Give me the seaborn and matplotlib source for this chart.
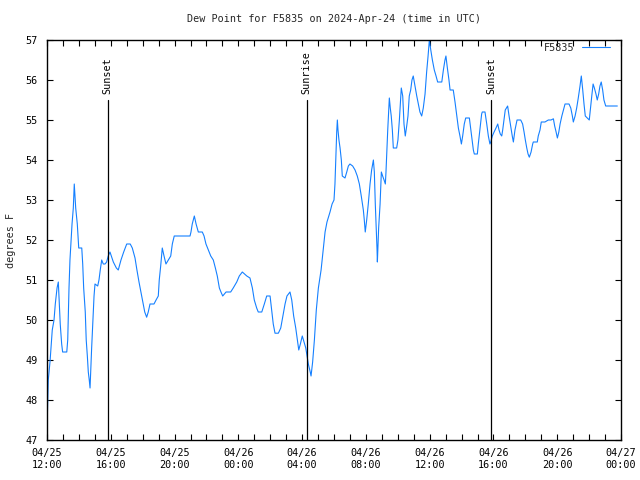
import matplotlib
matplotlib.use("Agg")
import matplotlib.pyplot as plt
import matplotlib.dates as mdates
import numpy as np
import pandas as pd
import seaborn as sns

# ---- data ----
start_time = "2024-04-25 12:00"
hours = [
    0.02, 0.08, 0.19, 0.25, 0.33, 0.44, 0.52, 0.63, 0.71, 0.75, 0.83, 0.92, 0.98, 1.24, 1.30, 1.34,
    1.38, 1.44, 1.51, 1.57, 1.65, 1.71, 1.80, 1.90, 1.99, 2.18, 2.24, 2.30, 2.40, 2.46, 2.53, 2.59,
    2.65, 2.70, 2.74, 2.80, 2.87, 2.95, 3.01, 3.18, 3.26, 3.34, 3.43, 3.53, 3.64, 3.74, 3.84, 3.95,
    4.16, 4.35, 4.47, 4.64, 4.81, 5.00, 5.22, 5.35, 5.52, 5.64, 5.77, 5.94, 6.13, 6.25, 6.35, 6.46,
    6.71, 6.84, 6.98, 7.04, 7.13, 7.23, 7.34, 7.46, 7.61, 7.76, 7.86, 7.98, 8.97, 9.03, 9.11, 9.24,
    9.35, 9.49, 9.74, 9.85, 9.97, 10.12, 10.27, 10.43, 10.56, 10.68, 10.81, 10.91, 11.02, 11.23, 11.52, 11.68,
    11.90, 12.06, 12.25, 12.53, 12.73, 12.88, 13.00, 13.15, 13.25, 13.47, 13.63, 13.78, 13.99, 14.09, 14.19, 14.30,
    14.51, 14.66, 14.78, 14.93, 15.05, 15.24, 15.35, 15.47, 15.60, 15.70, 15.79, 15.89, 16.01, 16.12, 16.23, 16.31,
    16.39, 16.51, 16.56, 16.66, 16.77, 16.89, 17.02, 17.19, 17.31, 17.44, 17.56, 17.75, 17.88, 18.00, 18.06, 18.11,
    18.17, 18.21, 18.25, 18.31, 18.38, 18.46, 18.52, 18.69, 18.80, 18.90, 19.00, 19.17, 19.32, 19.46, 19.59, 19.71,
    19.84, 19.90, 19.96, 20.05, 20.15, 20.26, 20.36, 20.43, 20.47, 20.53, 20.59, 20.64, 20.70, 20.72, 20.80, 20.89,
    20.97, 21.05, 21.14, 21.22, 21.26, 21.31, 21.37, 21.43, 21.47, 21.53, 21.59, 21.66, 21.72, 21.93, 22.01, 22.10,
    22.16, 22.22, 22.31, 22.39, 22.47, 22.56, 22.64, 22.72, 22.81, 22.89, 22.97, 23.08, 23.19, 23.29, 23.39, 23.50,
    23.60, 23.71, 23.81, 23.90, 23.98, 24.07, 24.17, 24.29, 24.40, 24.50, 24.76, 24.86, 24.96, 25.02, 25.11, 25.21,
    25.28, 25.48, 25.59, 25.70, 25.80, 25.90, 25.99, 26.07, 26.17, 26.26, 26.49, 26.57, 26.66, 26.74, 26.80, 26.99,
    27.05, 27.16, 27.26, 27.30, 27.47, 27.58, 27.68, 27.78, 27.83, 27.93, 28.04, 28.16, 28.27, 28.35, 28.43, 28.52,
    28.58, 28.66, 28.74, 28.89, 28.98, 29.10, 29.18, 29.25, 29.35, 29.48, 29.71, 29.83, 29.92, 30.00, 30.09, 30.17,
    30.25, 30.36, 30.46, 30.50, 30.75, 30.81, 30.92, 31.00, 31.23, 31.44, 31.61, 31.76, 31.84, 31.93, 32.01, 32.10,
    32.18, 32.29, 32.39, 32.49, 32.74, 32.85, 32.95, 33.01, 33.12, 33.22, 33.32, 33.43, 33.51, 33.60, 33.68, 33.76,
    33.89, 34.01, 34.10, 34.18, 34.25, 34.33, 34.43, 34.51, 34.60, 34.68, 34.76, 34.85, 34.93, 35.04, 35.77,
]
dewpoint = [
    47.57, 48.5, 48.96, 49.3, 49.75, 50.0, 50.4, 50.8, 50.95, 50.6, 49.9, 49.4, 49.2, 49.2, 49.5, 50.2,
    50.8, 51.5, 52.0, 52.4, 52.8, 53.4, 52.8, 52.4, 51.8, 51.8, 51.4, 50.8, 50.2, 49.5, 49.1, 48.7,
    48.5, 48.3, 48.7, 49.3, 49.9, 50.6, 50.9, 50.85, 51.0, 51.25, 51.5, 51.4, 51.4, 51.45, 51.6, 51.7,
    51.45, 51.3, 51.25, 51.5, 51.7, 51.9, 51.9, 51.8, 51.55, 51.25, 50.95, 50.6, 50.2, 50.07, 50.2, 50.4,
    50.4, 50.5, 50.6, 51.0, 51.35, 51.8, 51.6, 51.4, 51.5, 51.6, 51.9, 52.1, 52.1, 52.2, 52.4, 52.6,
    52.4, 52.2, 52.2, 52.1, 51.9, 51.75, 51.6, 51.5, 51.3, 51.1, 50.8, 50.7, 50.6, 50.7, 50.7, 50.8,
    50.95, 51.1, 51.2, 51.1, 51.05, 50.8, 50.5, 50.3, 50.2, 50.2, 50.4, 50.6, 50.6, 50.25, 49.9, 49.67,
    49.67, 49.8, 50.07, 50.4, 50.6, 50.7, 50.5, 50.1, 49.8, 49.5, 49.25, 49.4, 49.6, 49.45, 49.3, 49.1,
    48.9, 48.7, 48.6, 48.95, 49.5, 50.25, 50.8, 51.25, 51.7, 52.2, 52.45, 52.7, 52.9, 53.0, 53.4, 54.0,
    54.7, 55.0, 54.75, 54.5, 54.3, 54.0, 53.6, 53.55, 53.7, 53.85, 53.9, 53.85, 53.75, 53.6, 53.4, 53.1,
    52.75, 52.5, 52.2, 52.5, 52.9, 53.4, 53.75, 53.9, 54.0, 53.7, 52.9, 52.4, 51.75, 51.45, 52.3, 52.9,
    53.7, 53.6, 53.5, 53.4, 53.7, 54.2, 54.75, 55.25, 55.55, 55.3, 55.1, 54.75, 54.3, 54.3, 54.5, 55.0,
    55.4, 55.8, 55.6, 54.9, 54.6, 54.85, 55.1, 55.6, 55.75, 56.0, 56.1, 55.85, 55.6, 55.4, 55.2, 55.1,
    55.3, 55.65, 56.2, 56.6, 57.0, 56.75, 56.5, 56.25, 56.1, 55.95, 55.95, 56.25, 56.5, 56.6, 56.3, 56.0,
    55.75, 55.75, 55.45, 55.1, 54.8, 54.6, 54.4, 54.6, 54.9, 55.05, 55.05, 54.8, 54.5, 54.25, 54.15, 54.15,
    54.4, 54.8, 55.15, 55.2, 55.2, 54.9, 54.6, 54.4, 54.45, 54.6, 54.7, 54.8, 54.9, 54.75, 54.65, 54.6,
    54.75, 55.0, 55.25, 55.35, 55.1, 54.8, 54.6, 54.45, 54.75, 55.0, 55.0, 54.9, 54.7, 54.5, 54.3, 54.15,
    54.07, 54.2, 54.4, 54.45, 54.45, 54.6, 54.75, 54.95, 54.95, 55.0, 55.0, 55.03, 54.85, 54.7, 54.55, 54.7,
    54.9, 55.1, 55.25, 55.4, 55.4, 55.3, 55.1, 54.95, 55.1, 55.3, 55.55, 55.85, 56.1, 55.75, 55.4, 55.1,
    55.05, 55.0, 55.35, 55.65, 55.9, 55.8, 55.65, 55.5, 55.65, 55.85, 55.95, 55.75, 55.5, 55.35, 55.35,
]
event_labels = ["Sunset", "Sunrise", "Sunset"]
event_times = ["2024-04-25 15:48", "2024-04-26 04:17", "2024-04-26 15:52"]
series_name = "F5835"
title = "Dew Point for F5835 on 2024-Apr-24 (time in UTC)"
y_label = "degrees F"
x_start = "2024-04-25 12:00"
x_end = "2024-04-27 00:00"
y_min, y_max = 47, 57
event_line_top = 55.5

# ---- build frame ----
times = pd.Timestamp(start_time) + pd.to_timedelta(hours, unit="h")
df = pd.DataFrame({"time": times, "dewpoint": dewpoint, "station": series_name})

sns.set_style("white")
plt.rcParams["font.family"] = ["DejaVu Sans Mono"]
FS = 7.3
plt.rcParams["font.size"] = FS

fig = plt.figure(figsize=(6.4, 4.8), dpi=100)
ax = fig.add_axes([47 / 640, 1 - 440 / 480, 574 / 640, 400 / 480])

sns.lineplot(data=df, x="time", y="dewpoint", hue="station", palette=["#1580ff"],
             linewidth=0.8, ax=ax, estimator=None, sort=False)

for lab, t in zip(event_labels, event_times):
    tt = pd.Timestamp(t)
    ax.plot([tt, tt], [y_min, event_line_top], color="black", linewidth=0.9, zorder=3)
    ax.text(tt, event_line_top + 0.15, lab, rotation=90, ha="center", va="bottom",
            fontsize=FS, color="black")

ax.set_xlim(pd.Timestamp(x_start), pd.Timestamp(x_end))
ax.set_ylim(y_min, y_max)
ax.xaxis.set_major_locator(mdates.HourLocator(byhour=range(0, 24, 4)))
ax.xaxis.set_minor_locator(mdates.HourLocator())
ax.xaxis.set_major_formatter(mdates.DateFormatter("%m/%d\n%H:%M"))
ax.set_yticks(np.arange(y_min, y_max + 1, 1))

ax.tick_params(axis="both", which="both", direction="in", top=True, right=True,
               bottom=True, left=True, length=4, width=0.8, color="black",
               labelsize=FS, labelcolor="black")
ax.tick_params(axis="x", which="major", pad=6)
ax.tick_params(axis="y", which="major", pad=6.5)
for sp in ax.spines.values():
    sp.set_color("black")
    sp.set_linewidth(1.0)

ax.set_xlabel("")
ax.set_ylabel(y_label, fontsize=FS, labelpad=7)
ax.set_title(title, fontsize=FS, pad=13)

leg = ax.legend(loc="upper right", bbox_to_anchor=(0.9843, 0.998), frameon=False,
                markerfirst=False, fontsize=FS, handlelength=2.8, handletextpad=0.7,
                borderaxespad=0.0, borderpad=0.2, title=None)

fig.savefig("out.png", dpi=100)
